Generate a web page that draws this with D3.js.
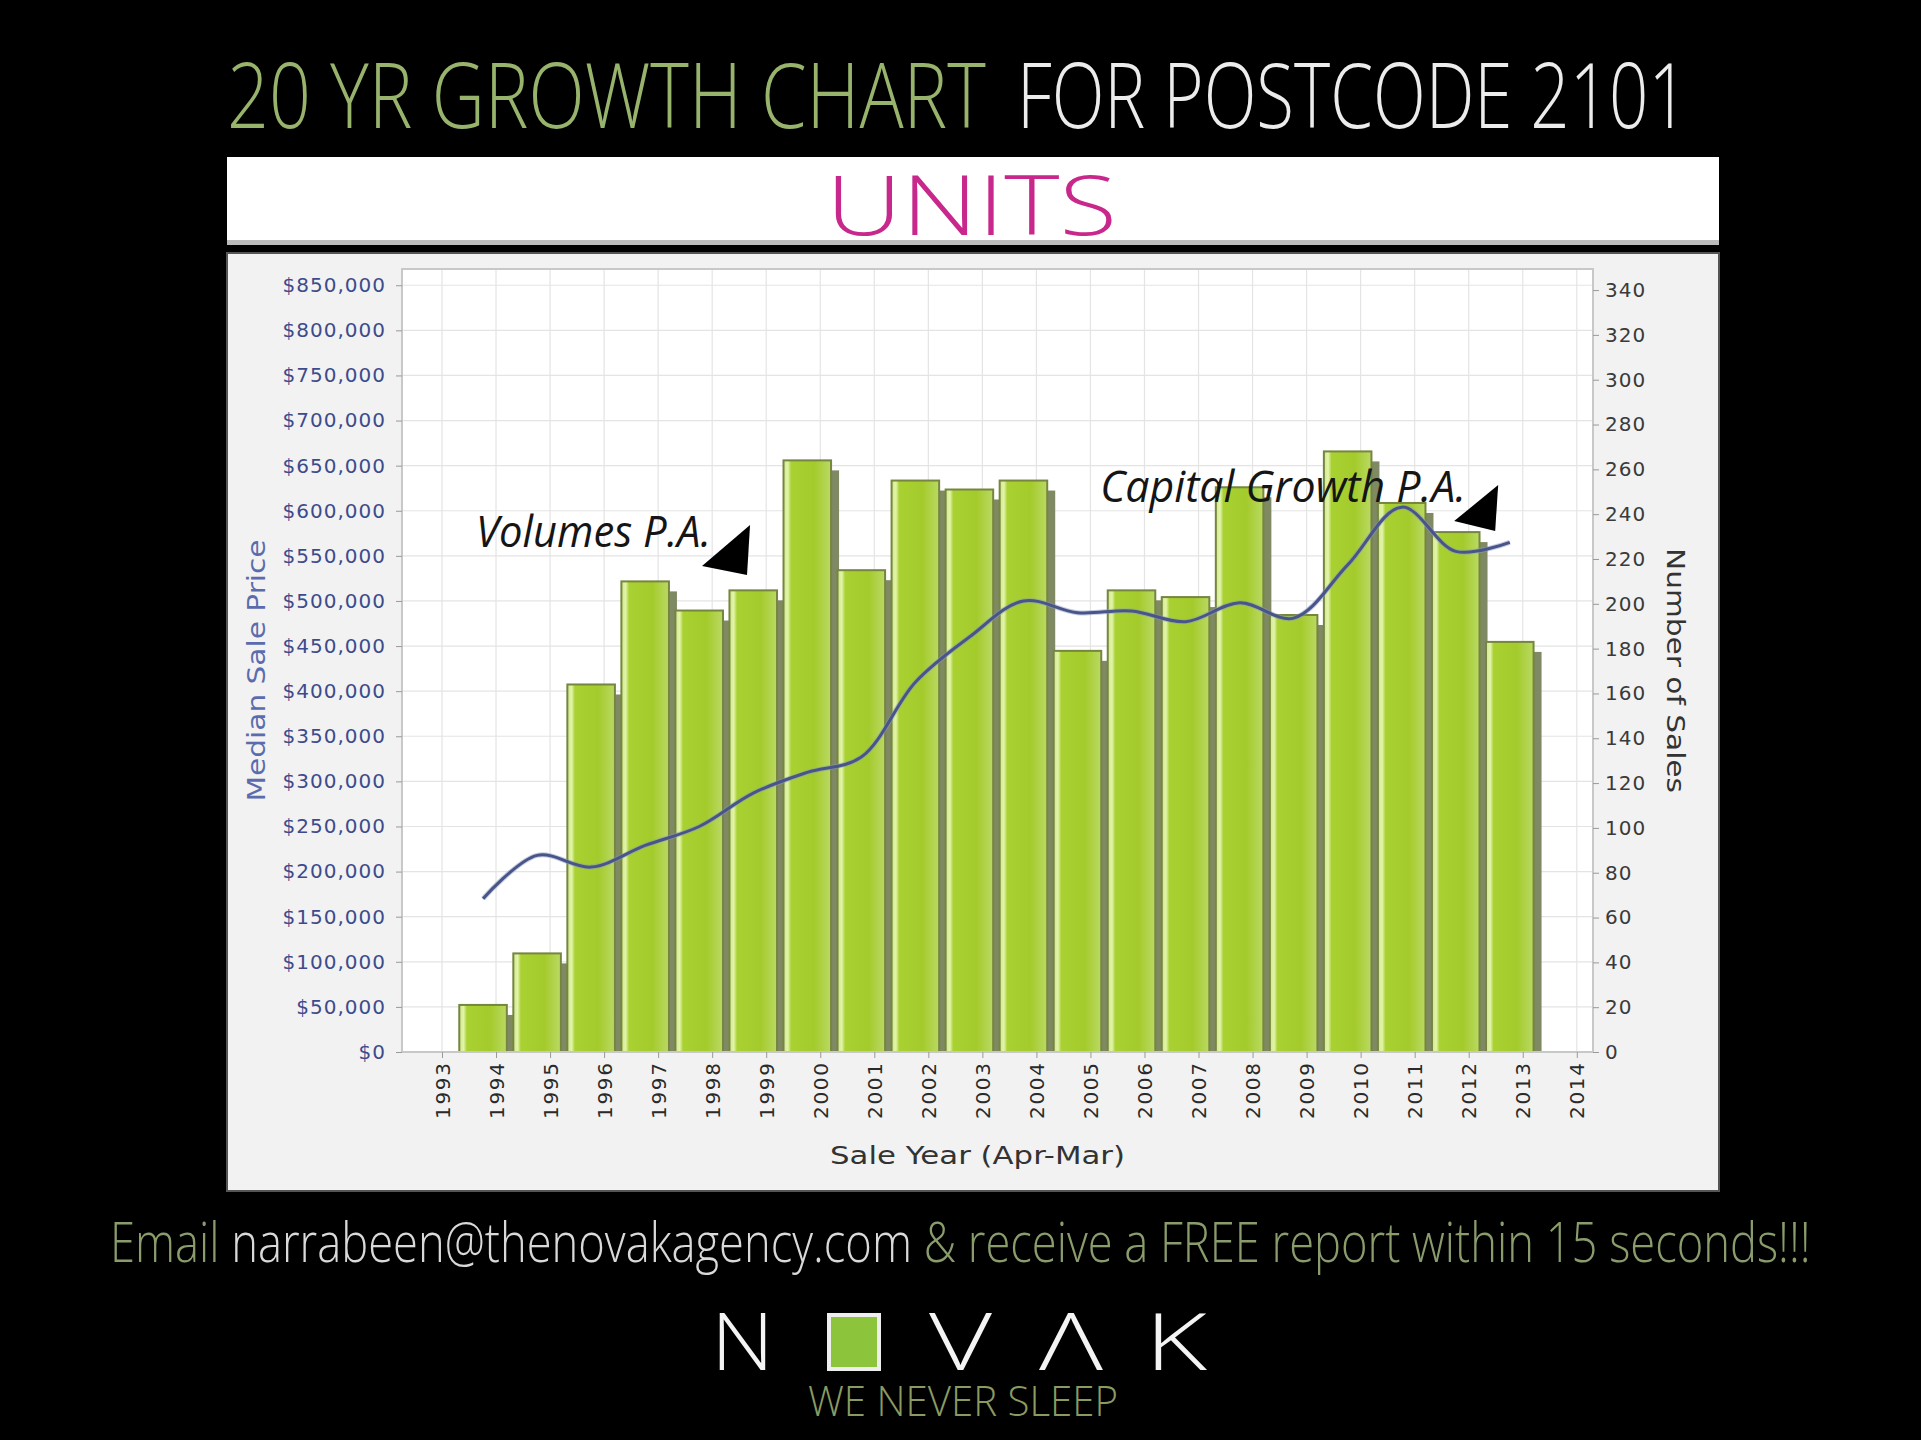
<!DOCTYPE html>
<html>
<head>
<meta charset="utf-8">
<title>20 YR Growth Chart - Postcode 2101</title>
<script src="https://cdn.jsdelivr.net/npm/d3@7"></script>
<style>
    body { margin: 0; background: #000; }
    svg { display: block; }
    .axis-label { font-family: "DejaVu Sans", sans-serif; }
    .thin { font-family: "Open Sans", sans-serif; font-weight: 300; }
</style>
</head>
<body>
<div id="chart-area"></div>
<script>

// Sale years that have a bar / median point
var saleYears = [1994, 1995, 1996, 1997, 1998, 1999, 2000, 2001, 2002, 2003,
                 2004, 2005, 2006, 2007, 2008, 2009, 2010, 2011, 2012, 2013];

// Number of sales per year (right axis)
var salesCount = [21, 44, 164, 210, 197, 206, 264, 215, 255, 251,
                  255, 179, 206, 203, 252, 195, 268, 245, 232, 183];

// Median sale price per year (left axis)
var medianPrice = [170000, 218000, 205000, 229000, 250000, 287000, 310000, 327000, 410000, 460000,
                   500000, 487000, 489000, 477000, 498000, 481000, 540000, 604000, 555000, 565000];

// Axis ticks
var yearTicks = [1993, 1994, 1995, 1996, 1997, 1998, 1999, 2000, 2001, 2002, 2003,
                 2004, 2005, 2006, 2007, 2008, 2009, 2010, 2011, 2012, 2013, 2014];
var priceTicks = [0, 50000, 100000, 150000, 200000, 250000, 300000, 350000, 400000,
                  450000, 500000, 550000, 600000, 650000, 700000, 750000, 800000, 850000];
var salesTicks = [0, 20, 40, 60, 80, 100, 120, 140, 160, 180, 200, 220, 240, 260, 280, 300, 320, 340];

// Annotations (anchored in year / number-of-sales units)
var noteLabels = ["Volumes P.A.", "Capital Growth P.A."];
var noteYears = [1993.63, 2005.18];
var noteSales = [225.3, 245.4];


// squeeze a text horizontally so it spans "w" pixels from (x, y)
function fitText(sel, x, y, w){
    var natural = sel.node().getComputedTextLength();
    var k = natural > 0 ? w / natural : 1;
    sel.attr("x", 0).attr("y", 0)
        .attr("transform", "translate(" + x + "," + y + ") scale(" + k + ",1)");
    return sel;
}

/*
 * GrowthChart - Object constructor function
 */
GrowthChart = function(_parentElement){
    this.parentElement = _parentElement;
    this.initVis();
}

GrowthChart.prototype.initVis = function(){
    var vis = this;

    vis.W = 1921;
    vis.H = 1440;

    // plot area inside the grey panel
    vis.margin = { top: 269, right: 328, bottom: 388, left: 402 };
    vis.width = vis.W - vis.margin.left - vis.margin.right;
    vis.height = vis.H - vis.margin.top - vis.margin.bottom;

    vis.svg = d3.select("#" + vis.parentElement).append("svg")
        .attr("width", vis.W)
        .attr("height", vis.H);

    vis.svg.append("rect")
        .attr("width", vis.W)
        .attr("height", vis.H)
        .attr("fill", "#000");

    var defs = vis.svg.append("defs");
    var grad = defs.append("linearGradient")
        .attr("id", "barFace")
        .attr("x1", 0).attr("x2", 1).attr("y1", 0).attr("y2", 0);
    [["0%", "#cfe88a"], ["9%", "#e3f4ab"], ["16%", "#a9d132"], ["65%", "#a4cb2c"], ["100%", "#bad964"]]
        .forEach(function(s){ grad.append("stop").attr("offset", s[0]).attr("stop-color", s[1]); });

    // Headline
    fitText(vis.svg.append("text")
        .attr("class", "thin")
        .style("font-size", "90px")
        .attr("fill", "#98b36c")
        .text("20 YR GROWTH CHART"), 227, 128, 759);

    fitText(vis.svg.append("text")
        .attr("class", "thin")
        .style("font-size", "90px")
        .attr("fill", "#ececec")
        .text("FOR POSTCODE 2101"), 1017, 128, 671);

    // UNITS banner
    vis.svg.append("rect")
        .attr("x", 227).attr("y", 157)
        .attr("width", 1492).attr("height", 88)
        .attr("fill", "#fff");
    vis.svg.append("rect")
        .attr("x", 227).attr("y", 240)
        .attr("width", 1492).attr("height", 5)
        .attr("fill", "#bbb");
    fitText(vis.svg.append("text")
        .attr("class", "thin")
        .style("font-size", "82px")
        .attr("fill", "#c8288c")
        .text("UNITS"), 826, 235, 291);

    // grey chart panel
    vis.svg.append("rect")
        .attr("x", 227).attr("y", 253)
        .attr("width", 1492).attr("height", 938)
        .attr("fill", "#f2f2f2")
        .attr("stroke", "#555")
        .attr("stroke-width", 2);

    vis.g = vis.svg.append("g")
        .attr("transform", "translate(" + vis.margin.left + "," + vis.margin.top + ")");

    vis.g.append("rect")
        .attr("width", vis.width)
        .attr("height", vis.height)
        .attr("fill", "#fff");

    // Scales
    vis.x = d3.scaleLinear()
        .domain([1992.26, 2014.3])
        .range([0, vis.width]);

    vis.yPrice = d3.scaleLinear()
        .domain([0, 868000])
        .range([vis.height, 0]);

    vis.ySales = d3.scaleLinear()
        .domain([0, 349.4])
        .range([vis.height, 0]);

    // grid
    vis.g.append("g")
        .attr("class", "grid")
        .selectAll("line.h")
        .data(priceTicks)
        .enter().append("line")
        .attr("x1", 0).attr("x2", vis.width)
        .attr("y1", function(d){ return vis.yPrice(d); })
        .attr("y2", function(d){ return vis.yPrice(d); })
        .attr("stroke", "#e4e4e4").attr("stroke-width", 1.2);

    vis.g.append("g")
        .attr("class", "grid")
        .selectAll("line.v")
        .data(yearTicks)
        .enter().append("line")
        .attr("y1", 0).attr("y2", vis.height)
        .attr("x1", function(d){ return vis.x(d); })
        .attr("x2", function(d){ return vis.x(d); })
        .attr("stroke", "#e4e4e4").attr("stroke-width", 1.2);

    // Axes
    vis.xAxis = d3.axisBottom(vis.x)
        .tickValues(yearTicks)
        .tickFormat(d3.format("d"))
        .tickSize(6);

    vis.yAxisLeft = d3.axisLeft(vis.yPrice)
        .tickValues(priceTicks)
        .tickFormat(function(d){ return "$" + d3.format(",")(d); })
        .tickSize(6)
        .tickPadding(10);

    vis.yAxisRight = d3.axisRight(vis.ySales)
        .tickValues(salesTicks)
        .tickSize(6)
        .tickPadding(6);

    vis.wrangleData();
}

GrowthChart.prototype.wrangleData = function(){
    var vis = this;

    vis.displayData = saleYears.map(function(y, i){
        return { year: y, sales: salesCount[i], price: medianPrice[i] };
    });

    vis.updateVis();
}

GrowthChart.prototype.updateVis = function(){
    var vis = this;
    var data = vis.displayData;

    var faceLeft = function(d){ return vis.x(d.year - 0.68); };
    var faceW = vis.x(0.88) - vis.x(0);
    var shadowDx = 8, shadowDy = 10;

    // bar shadows first
    vis.g.selectAll(".bar-shadow")
        .data(data)
        .enter().append("rect")
        .attr("class", "bar-shadow")
        .attr("x", function(d){ return faceLeft(d) + shadowDx; })
        .attr("y", function(d){ return vis.ySales(d.sales) + shadowDy; })
        .attr("width", faceW)
        .attr("height", function(d){ return vis.height - vis.ySales(d.sales) - shadowDy; })
        .attr("fill", "#7f8963");

    vis.g.selectAll(".bar")
        .data(data)
        .enter().append("rect")
        .attr("class", "bar")
        .attr("x", faceLeft)
        .attr("y", function(d){ return vis.ySales(d.sales); })
        .attr("width", faceW)
        .attr("height", function(d){ return vis.height - vis.ySales(d.sales); })
        .attr("fill", "url(#barFace)")
        .attr("stroke", "#76863f")
        .attr("stroke-width", 2);

    // plot border
    vis.g.append("rect")
        .attr("width", vis.width)
        .attr("height", vis.height)
        .attr("fill", "none")
        .attr("stroke", "#c8c8c8")
        .attr("stroke-width", 2);

    // median price line
    vis.priceLine = d3.line()
        .x(function(d){ return vis.x(d.year - 0.24); })
        .y(function(d){ return vis.yPrice(d.price); })
        .curve(d3.curveCatmullRom.alpha(0.5));

    vis.g.append("path")
        .datum(data)
        .attr("class", "line")
        .attr("d", vis.priceLine)
        .attr("fill", "none")
        .attr("stroke", "#8d97bf")
        .attr("stroke-width", 5)
        .attr("opacity", 0.5);

    vis.g.append("path")
        .datum(data)
        .attr("class", "line")
        .attr("d", vis.priceLine)
        .attr("fill", "none")
        .attr("stroke", "#47558a")
        .attr("stroke-width", 3);

    // Axes
    var xg = vis.g.append("g")
        .attr("class", "x-axis axis")
        .attr("transform", "translate(0," + vis.height + ")")
        .call(vis.xAxis);
    xg.select(".domain").remove();
    xg.selectAll("line").attr("stroke", "#999");
    xg.selectAll("text")
        .attr("class", "axis-label")
        .attr("transform", "rotate(-90)")
        .attr("text-anchor", "end")
        .attr("x", -11)
        .attr("y", 0)
        .attr("dy", "0.36em")
        .attr("textLength", 56)
        .style("font-size", "20px")
        .attr("fill", "#2a2a2a");

    var yl = vis.g.append("g")
        .attr("class", "y-axis axis")
        .call(vis.yAxisLeft);
    yl.select(".domain").remove();
    yl.selectAll("line").attr("stroke", "#999");
    yl.selectAll("text")
        .attr("class", "axis-label")
        .style("font-size", "20px")
        .style("letter-spacing", "1px")
        .attr("fill", "#3d4b8c");

    var yr = vis.g.append("g")
        .attr("class", "y-axis axis")
        .attr("transform", "translate(" + vis.width + ",0)")
        .call(vis.yAxisRight);
    yr.select(".domain").remove();
    yr.selectAll("line").attr("stroke", "#999");
    yr.selectAll("text")
        .attr("class", "axis-label")
        .style("font-size", "20px")
        .style("letter-spacing", "1px")
        .attr("fill", "#3a3a3a");

    // axis titles
    vis.g.append("text")
        .attr("class", "axis-label")
        .attr("transform", "translate(" + (-137) + "," + (vis.height / 2 + 10) + ") rotate(-90)")
        .attr("text-anchor", "middle")
        .attr("textLength", 262).attr("lengthAdjust", "spacingAndGlyphs")
        .style("font-size", "25px")
        .attr("fill", "#5b6cae")
        .text("Median Sale Price");

    vis.g.append("text")
        .attr("class", "axis-label")
        .attr("transform", "translate(" + (vis.width + 74) + "," + (vis.height / 2 + 10) + ") rotate(90)")
        .attr("text-anchor", "middle")
        .attr("textLength", 245).attr("lengthAdjust", "spacingAndGlyphs")
        .style("font-size", "25px")
        .attr("fill", "#333")
        .text("Number of Sales");

    vis.g.append("text")
        .attr("class", "axis-label")
        .attr("x", vis.width / 2 - 20)
        .attr("y", vis.height + 112)
        .attr("text-anchor", "middle")
        .attr("textLength", 295).attr("lengthAdjust", "spacingAndGlyphs")
        .style("font-size", "25px")
        .attr("fill", "#333")
        .text("Sale Year (Apr-Mar)");

    // annotations
    var noteWidths = [235, 366];
    var arrows = [
        [[226, 19], [274, -22], [271, 28]],
        [[354, 19], [398, -17], [395, 29]]
    ];
    noteLabels.forEach(function(label, i){
        var nx = vis.x(noteYears[i]), ny = vis.ySales(noteSales[i]);
        fitText(vis.g.append("text")
            .style("font-family", "'Open Sans', sans-serif")
            .style("font-style", "italic")
            .style("font-size", "44px")
            .attr("fill", "#151515")
            .text(label), nx, ny, noteWidths[i]);
        vis.g.append("path")
            .attr("d", "M" + arrows[i].map(function(p){ return (nx + p[0]) + "," + (ny + p[1]); }).join("L") + "Z")
            .attr("fill", "#000");
    });

    // footer line: one text with coloured parts
    var footer = vis.svg.append("text")
        .attr("class", "thin")
        .style("font-size", "56px");
    footer.append("tspan").attr("fill", "#8a9c6c").text("Email ");
    footer.append("tspan").attr("fill", "#d9d9d9").text("narrabeen@thenovakagency.com ");
    footer.append("tspan").attr("fill", "#8a9c6c").text("& receive a FREE report within 15 seconds!!!");
    fitText(footer, 110, 1262, 1701);

    // NOVAK logo
    var logo = [["N", 711, 63], ["V", 929, 63], ["\u039B", 1039, 64], ["K", 1145, 62]];
    logo.forEach(function(l){
        fitText(vis.svg.append("text")
            .attr("class", "thin")
            .style("font-size", "80px")
            .attr("fill", "#f4f4f4")
            .text(l[0]), l[1], 1370, l[2]);
    });
    vis.svg.append("rect")
        .attr("x", 829).attr("y", 1315)
        .attr("width", 50).attr("height", 54)
        .attr("fill", "#8cc43c")
        .attr("stroke", "#eee")
        .attr("stroke-width", 4);

    fitText(vis.svg.append("text")
        .attr("class", "thin")
        .style("font-size", "42px")
        .attr("fill", "#8a9b62")
        .text("WE NEVER SLEEP"), 808, 1416, 310);
}

var growthChart = new GrowthChart("chart-area");

</script>
</body>
</html>
